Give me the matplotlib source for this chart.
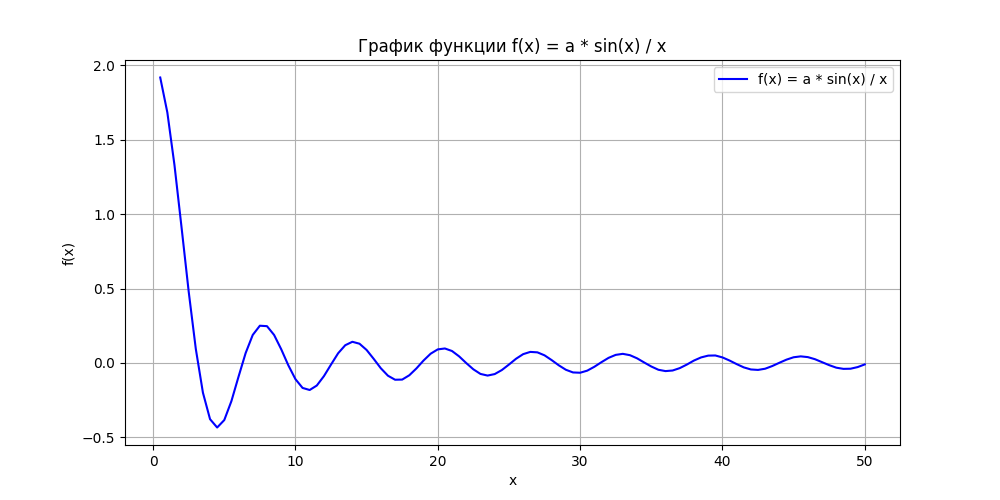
import matplotlib

matplotlib.use("Agg")

import matplotlib.pyplot as plt

# Sample points (step 0.5 from 0.5 to 50).
x_values = [
    0.5, 1.0, 1.5, 2.0, 2.5, 3.0, 3.5, 4.0, 4.5, 5.0,
    5.5, 6.0, 6.5, 7.0, 7.5, 8.0, 8.5, 9.0, 9.5, 10.0,
    10.5, 11.0, 11.5, 12.0, 12.5, 13.0, 13.5, 14.0, 14.5, 15.0,
    15.5, 16.0, 16.5, 17.0, 17.5, 18.0, 18.5, 19.0, 19.5, 20.0,
    20.5, 21.0, 21.5, 22.0, 22.5, 23.0, 23.5, 24.0, 24.5, 25.0,
    25.5, 26.0, 26.5, 27.0, 27.5, 28.0, 28.5, 29.0, 29.5, 30.0,
    30.5, 31.0, 31.5, 32.0, 32.5, 33.0, 33.5, 34.0, 34.5, 35.0,
    35.5, 36.0, 36.5, 37.0, 37.5, 38.0, 38.5, 39.0, 39.5, 40.0,
    40.5, 41.0, 41.5, 42.0, 42.5, 43.0, 43.5, 44.0, 44.5, 45.0,
    45.5, 46.0, 46.5, 47.0, 47.5, 48.0, 48.5, 49.0, 49.5, 50.0,
]
f_values = [
    1.918, 1.683, 1.330, 0.909, 0.479, 0.094, -0.200, -0.378, -0.434, -0.384,
    -0.257, -0.093, 0.066, 0.188, 0.250, 0.247, 0.188, 0.092, -0.016, -0.109,
    -0.168, -0.182, -0.152, -0.089, -0.011, 0.065, 0.119, 0.142, 0.129, 0.087,
    0.027, -0.036, -0.086, -0.113, -0.112, -0.083, -0.037, 0.016, 0.062, 0.091,
    0.097, 0.080, 0.044, -0.001, -0.043, -0.074, -0.085, -0.075, -0.048, -0.011,
    0.028, 0.059, 0.074, 0.071, 0.051, 0.019, -0.016, -0.046, -0.064, -0.066,
    -0.052, -0.026, 0.005, 0.034, 0.054, 0.061, 0.052, 0.031, 0.003, -0.024,
    -0.046, -0.055, -0.051, -0.035, -0.011, 0.016, 0.037, 0.049, 0.050, 0.037,
    0.016, -0.008, -0.030, -0.044, -0.047, -0.039, -0.021, 0.001, 0.022, 0.038,
    0.044, 0.039, 0.025, 0.005, -0.015, -0.032, -0.040, -0.039, -0.028, -0.010,
]

fig, ax = plt.subplots(figsize=(10, 5), dpi=100)
ax.plot(x_values, f_values, color="blue", label="f(x) = a * sin(x) / x")
ax.set_title("График функции f(x) = a * sin(x) / x")
ax.set_xlabel("x")
ax.set_ylabel("f(x)")
ax.grid(True)
ax.legend(loc="upper right")

fig.savefig("out.png", dpi=100)
plt.close(fig)
